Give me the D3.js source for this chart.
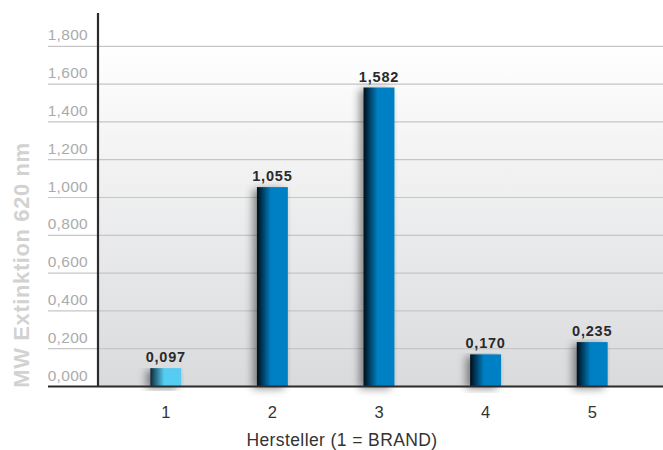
<!DOCTYPE html>
<html>
<head>
<meta charset="utf-8">
<script src="https://cdn.jsdelivr.net/npm/d3@7"></script>
<style>
  body { margin: 0; background: #fff; }
  svg { display: block; font-family: "Liberation Sans", Arial, sans-serif; }
</style>
</head>
<body>
<svg id="chart" width="663" height="450"></svg>
<script>
"use strict"

const categories = ["1", "2", "3", "4", "5"]
const values = [0.097, 1.055, 1.582, 0.170, 0.235]
const valueLabels = ["0,097", "1,055", "1,582", "0,170", "0,235"]
const yTicks = [0, 0.2, 0.4, 0.6, 0.8, 1.0, 1.2, 1.4, 1.6, 1.8]
const yTickLabels = ["0,000", "0,200", "0,400", "0,600", "0,800", "1,000", "1,200", "1,400", "1,600", "1,800"]
const yTitle = "MW Extinktion 620 nm"
const xTitle = "Hersteller (1 = BRAND)"

const width = 663, height = 450
const margin = {top: 13, left: 98, right: 0, bottom: 64}
const baseY = 386.5

const svg = d3.select("#chart")

const y = d3.scaleLinear().domain([0, 1.8]).range([baseY, 46.3])
const x = d3.scaleBand().domain(categories).range([113, 645]).paddingInner(0.71).paddingOuter(0.35)

const defs = svg.append("defs")

const bg = defs.append("linearGradient").attr("id", "bg").attr("x1", 0).attr("y1", 0).attr("x2", 0).attr("y2", 1)
bg.append("stop").attr("offset", "0%").attr("stop-color", "#ffffff")
bg.append("stop").attr("offset", "100%").attr("stop-color", "#d9dadc")

function barGradient(id, dark, light) {
    const g = defs.append("linearGradient").attr("id", id).attr("x1", 0).attr("y1", 0).attr("x2", 1).attr("y2", 0)
    g.append("stop").attr("offset", "0%").attr("stop-color", dark)
    g.append("stop").attr("offset", "45%").attr("stop-color", light)
    g.append("stop").attr("offset", "100%").attr("stop-color", light)
}
barGradient("barBlue", "#040e18", "#0380c4")
barGradient("barCyan", "#0a2a3a", "#55cdf3")

const shadow = defs.append("filter").attr("id", "shadow")
    .attr("x", "-60%").attr("y", "-10%").attr("width", "180%").attr("height", "130%")
shadow.append("feGaussianBlur").attr("in", "SourceAlpha").attr("stdDeviation", 4)
shadow.append("feOffset").attr("dx", -4).attr("dy", 2).attr("result", "b")
shadow.append("feComponentTransfer").append("feFuncA").attr("type", "linear").attr("slope", 0.45)
const merge = shadow.append("feMerge")
merge.append("feMergeNode")
merge.append("feMergeNode").attr("in", "SourceGraphic")

// plot background
svg.append("rect")
    .attr("x", margin.left)
    .attr("y", y(1.8))
    .attr("width", width - margin.left)
    .attr("height", baseY - y(1.8))
    .attr("fill", "url(#bg)")

// grid lines and tick labels
svg.selectAll(".grid")
    .data(yTicks.slice(1))
    .enter()
    .append("line")
    .attr("class", "grid")
    .attr("x1", 48)
    .attr("x2", width)
    .attr("y1", d => y(d))
    .attr("y2", d => y(d))
    .attr("stroke", "#c6c6c6")
    .attr("stroke-width", 1.2)

svg.selectAll(".ylabel")
    .data(yTicks)
    .enter()
    .append("text")
    .attr("class", "ylabel")
    .attr("x", 88)
    .attr("y", d => y(d) - 6)
    .attr("text-anchor", "end")
    .style("font-size", "15.5px")
    .style("letter-spacing", "0.3px")
    .style("fill", "#ababab")
    .text((d, i) => yTickLabels[i])

svg.append("text")
    .attr("transform", "translate(29," + 265 + ") rotate(-90)")
    .attr("text-anchor", "middle")
    .style("font-size", "22px")
    .style("letter-spacing", "0.6px")
    .style("font-weight", "bold")
    .style("fill", "#d2d2d2")
    .text(yTitle)

// bars
svg.selectAll(".bar")
    .data(values)
    .enter()
    .append("rect")
    .attr("class", "bar")
    .attr("x", (d, i) => x(categories[i]))
    .attr("y", d => y(d))
    .attr("width", x.bandwidth())
    .attr("height", d => baseY - y(d))
    .attr("fill", (d, i) => i === 0 ? "url(#barCyan)" : "url(#barBlue)")
    .attr("filter", "url(#shadow)")

svg.selectAll(".vlabel")
    .data(values)
    .enter()
    .append("text")
    .attr("class", "vlabel")
    .attr("x", (d, i) => x(categories[i]) + x.bandwidth() / 2)
    .attr("y", d => y(d) - 6)
    .attr("text-anchor", "middle")
    .style("font-size", "14.5px")
    .style("letter-spacing", "0.8px")
    .style("font-weight", "bold")
    .style("fill", "#2a2a2a")
    .text((d, i) => valueLabels[i])

// axes
svg.append("line")
    .attr("x1", margin.left).attr("x2", margin.left)
    .attr("y1", margin.top).attr("y2", baseY)
    .attr("stroke", "#2b2b2b").attr("stroke-width", 2.2)

svg.append("line")
    .attr("x1", 48).attr("x2", width)
    .attr("y1", baseY).attr("y2", baseY)
    .attr("stroke", "#2b2b2b").attr("stroke-width", 2.2)

svg.selectAll(".xlabel")
    .data(categories)
    .enter()
    .append("text")
    .attr("class", "xlabel")
    .attr("x", d => x(d) + x.bandwidth() / 2)
    .attr("y", 418)
    .attr("text-anchor", "middle")
    .style("font-size", "16.5px")
    .style("fill", "#333")
    .text(d => d)

svg.append("text")
    .attr("x", 342)
    .attr("y", 446)
    .attr("text-anchor", "middle")
    .style("font-size", "17.5px")
    .style("letter-spacing", "0.4px")
    .style("fill", "#333")
    .text(xTitle)
</script>
</body>
</html>
